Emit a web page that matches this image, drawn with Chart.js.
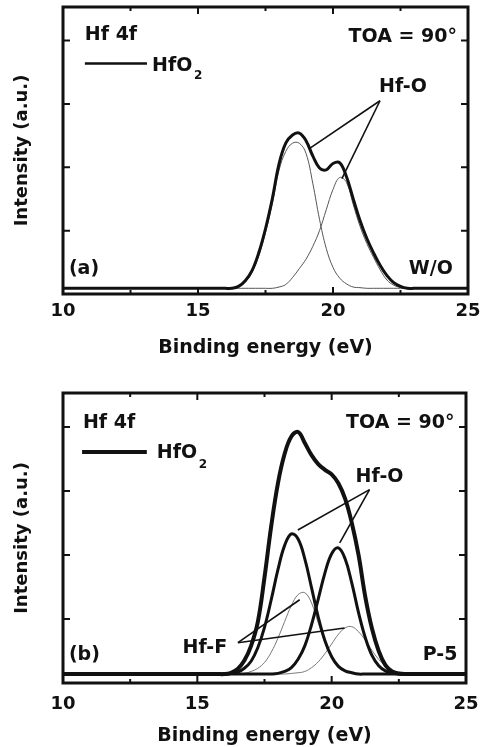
<!DOCTYPE html>
<html>
<head>
<meta charset="utf-8">
<script src="https://cdn.jsdelivr.net/npm/chart.js@4.4.1/dist/chart.umd.min.js"></script>
<style>
  html, body { margin: 0; padding: 0; background: #fff; }
  canvas { position: absolute; left: 0; }
  #chartA { top: 0; }
  #chartB { top: 370px; }
</style>
</head>
<body>
<canvas id="chartA" width="480" height="370"></canvas>
<canvas id="chartB" width="480" height="377"></canvas>
<script>
const FONT = '"DejaVu Sans", sans-serif';

// Binding energy (eV) shared by every curve
const energies = [10, 15.5, 15.75, 16, 16.25,
  16.5, 16.75, 17, 17.25, 17.5,
  17.75, 18, 18.25, 18.5, 18.75,
  19, 19.25, 19.5, 19.75, 20,
  20.25, 20.5, 20.75, 21, 21.25,
  21.5, 21.75, 22, 22.25, 22.5,
  22.75, 23, 23.25, 23.5, 25];

// Panel (a): W/O
const totalA = [0.09, 0.09, 0.09, 0.09, 0.09,
  0.12, 0.21, 0.37, 0.65, 1.03,
  1.50, 2.05, 2.38, 2.51, 2.54,
  2.42, 2.18, 1.99, 1.96, 2.06,
  2.07, 1.85, 1.50, 1.16, 0.88,
  0.65, 0.45, 0.29, 0.18, 0.12,
  0.09, 0.09, 0.09, 0.09, 0.09];
const hfoA1 = [0.09, 0.09, 0.09, 0.09, 0.09,
  0.11, 0.19, 0.34, 0.60, 0.97,
  1.42, 1.95, 2.25, 2.38, 2.38,
  2.22, 1.75, 1.18, 0.72, 0.42,
  0.25, 0.16, 0.11, 0.10, 0.09,
  0.09, 0.09, 0.09, 0.09, 0.09,
  0.09, 0.09, 0.09, 0.09, 0.09];
const hfoA2 = [0.09, 0.09, 0.09, 0.09, 0.09,
  0.09, 0.09, 0.09, 0.09, 0.09,
  0.09, 0.11, 0.15, 0.26, 0.40,
  0.55, 0.75, 1.00, 1.33, 1.65,
  1.84, 1.76, 1.41, 1.07, 0.80,
  0.58, 0.38, 0.22, 0.14, 0.10,
  0.09, 0.09, 0.09, 0.09, 0.09];

// Panel (b): P-5
const totalB = [0.14, 0.14, 0.14, 0.14, 0.16,
  0.22, 0.35, 0.58, 0.95, 1.65,
  2.45, 3.12, 3.58, 3.85, 3.92,
  3.75, 3.56, 3.42, 3.33, 3.26,
  3.12, 2.88, 2.50, 2.00, 1.35,
  0.85, 0.50, 0.28, 0.18, 0.15,
  0.14, 0.14, 0.14, 0.14, 0.14];
const hfoB1 = [0.14, 0.14, 0.14, 0.14, 0.15,
  0.17, 0.23, 0.34, 0.55, 0.87,
  1.30, 1.77, 2.15, 2.33, 2.25,
  1.94, 1.49, 1.03, 0.66, 0.41,
  0.26, 0.19, 0.16, 0.14, 0.14,
  0.14, 0.14, 0.14, 0.14, 0.14,
  0.14, 0.14, 0.14, 0.14, 0.14];
const hfoB2 = [0.14, 0.14, 0.14, 0.14, 0.14,
  0.14, 0.14, 0.14, 0.14, 0.14,
  0.14, 0.15, 0.18, 0.24, 0.37,
  0.58, 0.91, 1.31, 1.72, 2.02,
  2.11, 1.94, 1.56, 1.10, 0.71,
  0.43, 0.27, 0.19, 0.16, 0.14,
  0.14, 0.14, 0.14, 0.14, 0.14];
const hffB1 = [0.14, 0.14, 0.14, 0.14, 0.14,
  0.14, 0.15, 0.18, 0.23, 0.32,
  0.48, 0.70, 0.96, 1.21, 1.38,
  1.41, 1.25, 0.94, 0.63, 0.39,
  0.25, 0.18, 0.15, 0.14, 0.14,
  0.14, 0.14, 0.14, 0.14, 0.14,
  0.14, 0.14, 0.14, 0.14, 0.14];
const hffB2 = [0.14, 0.14, 0.14, 0.14, 0.14,
  0.14, 0.14, 0.14, 0.14, 0.14,
  0.14, 0.14, 0.14, 0.15, 0.16,
  0.18, 0.24, 0.33, 0.46, 0.61,
  0.76, 0.86, 0.88, 0.80, 0.67,
  0.51, 0.37, 0.27, 0.20, 0.17,
  0.15, 0.14, 0.14, 0.14, 0.14];

const xTicks = [10, 15, 20, 25];
const xMinorTicks = [12.5, 17.5, 22.5];
const yTicks = [1, 2, 3, 4];

function points(values) {
  return energies.map((e, i) => ({ x: e, y: values[i] }));
}

function curve(values, width, color) {
  return { data: points(values), borderColor: color, borderWidth: width, pointRadius: 0, fill: false, tension: 0.4 };
}

// Draws the frame, inward ticks, legend sample, pointer lines and the labels
const decor = {
  id: 'decor',
  afterDatasetsDraw(chart, args, opts) {
    const { ctx, chartArea: a, scales: { x, y } } = chart;
    ctx.save();
    ctx.strokeStyle = '#111';
    ctx.lineCap = 'butt';

    // ticks pointing into the plot
    ctx.lineWidth = 2;
    ctx.beginPath();
    yTicks.forEach(v => {
      const py = y.getPixelForValue(v);
      ctx.moveTo(a.left, py); ctx.lineTo(a.left + 7, py);
      ctx.moveTo(a.right, py); ctx.lineTo(a.right - 7, py);
    });
    xTicks.slice(1, -1).forEach(v => {
      const px = x.getPixelForValue(v);
      ctx.moveTo(px, a.bottom); ctx.lineTo(px, a.bottom - 7);
      ctx.moveTo(px, a.top); ctx.lineTo(px, a.top + 7);
    });
    xMinorTicks.forEach(v => {
      const px = x.getPixelForValue(v);
      ctx.moveTo(px, a.bottom); ctx.lineTo(px, a.bottom - 4);
      ctx.moveTo(px, a.top); ctx.lineTo(px, a.top + 4);
    });
    ctx.stroke();

    // frame
    ctx.lineWidth = 3;
    ctx.strokeRect(a.left, a.top, a.right - a.left, a.bottom - a.top);

    // legend sample
    const lg = opts.legend;
    ctx.lineWidth = lg.width;
    ctx.beginPath();
    ctx.moveTo(x.getPixelForValue(lg.x1), y.getPixelForValue(lg.y));
    ctx.lineTo(x.getPixelForValue(lg.x2), y.getPixelForValue(lg.y));
    ctx.stroke();

    // pointer lines
    ctx.lineWidth = 1.6;
    opts.pointers.forEach(p => {
      ctx.beginPath();
      ctx.moveTo(x.getPixelForValue(p.from[0]), y.getPixelForValue(p.from[1]));
      ctx.lineTo(x.getPixelForValue(p.to[0]), y.getPixelForValue(p.to[1]));
      ctx.stroke();
    });

    // labels
    ctx.fillStyle = '#111';
    ctx.textBaseline = 'middle';
    opts.texts.forEach(t => {
      ctx.font = 'bold ' + (t.size || 19) + 'px ' + FONT;
      ctx.textAlign = t.align || 'left';
      ctx.fillText(t.text, x.getPixelForValue(t.x), y.getPixelForValue(t.y));
    });
    ctx.restore();
  }
};

function makeChart(id, datasets, dims, decorOpts) {
  return new Chart(document.getElementById(id), {
    type: 'line',
    data: { datasets },
    options: {
      responsive: false,
      animation: false,
      devicePixelRatio: 1,
      layout: { padding: { top: dims.top, right: dims.right, left: 0, bottom: 0 } },
      plugins: { legend: { display: false }, tooltip: { enabled: false }, decor: decorOpts },
      scales: {
        x: {
          type: 'linear', min: 10, max: 25,
          grid: { display: false, drawTicks: false },
          border: { display: false },
          afterBuildTicks: s => { s.ticks = xTicks.map(v => ({ value: v })); },
          afterFit: s => { s.height = dims.xHeight; s.paddingLeft = 0; s.paddingRight = 0; },
          ticks: { font: { family: FONT, size: 18, weight: 'bold' }, color: '#111', padding: dims.tickPad, maxRotation: 0 },
          title: {
            display: true, text: 'Binding energy (eV)', color: '#111',
            font: { family: FONT, size: 19, weight: 'bold' },
            padding: { top: 0, bottom: dims.titlePad }
          }
        },
        y: {
          min: 0, max: 4.53,
          grid: { display: false, drawTicks: false },
          border: { display: false },
          ticks: { display: false },
          afterFit: s => { s.width = 63; },
          title: {
            display: true, text: 'Intensity (a.u.)', color: '#111',
            font: { family: FONT, size: 18, weight: 'bold' },
            padding: { top: 12, bottom: 0 }
          }
        }
      }
    },
    plugins: [decor]
  });
}

makeChart('chartA', [
  curve(totalA, 3, '#111'),
  curve(hfoA1, 1, '#555'),
  curve(hfoA2, 1, '#555')
], { top: 7, right: 12, xHeight: 76, tickPad: 7, titlePad: 11 }, {
  legend: { x1: 10.81, x2: 13.11, y: 3.64, width: 2.5 },
  pointers: [
    { from: [21.74, 3.05], to: [19.11, 2.29] },
    { from: [21.74, 3.05], to: [20.33, 1.82] }
  ],
  texts: [
    { text: 'Hf 4f', x: 10.81, y: 4.08 },
    { text: 'HfO', x: 13.30, y: 3.60 },
    { text: '2', x: 14.85, y: 3.44, size: 12 },
    { text: 'TOA = 90°', x: 24.59, y: 4.06, align: 'right' },
    { text: 'Hf-O', x: 22.59, y: 3.26, align: 'center' },
    { text: '(a)', x: 10.22, y: 0.39 },
    { text: 'W/O', x: 24.44, y: 0.40, align: 'right' }
  ]
});

makeChart('chartB', [
  curve(totalB, 4, '#111'),
  curve(hfoB1, 3, '#111'),
  curve(hfoB2, 3, '#111'),
  curve(hffB1, 1, '#777'),
  curve(hffB2, 1, '#777')
], { top: 23, right: 14, xHeight: 64, tickPad: 11, titlePad: 0 }, {
  legend: { x1: 10.71, x2: 13.12, y: 3.61, width: 4 },
  pointers: [
    { from: [21.41, 3.02], to: [18.74, 2.39] },
    { from: [21.41, 3.02], to: [20.30, 2.19] },
    { from: [16.51, 0.63], to: [18.81, 1.30] },
    { from: [16.51, 0.63], to: [20.48, 0.86] }
  ],
  texts: [
    { text: 'Hf 4f', x: 10.74, y: 4.06 },
    { text: 'HfO', x: 13.49, y: 3.59 },
    { text: '2', x: 15.05, y: 3.41, size: 12 },
    { text: 'TOA = 90°', x: 24.57, y: 4.06, align: 'right' },
    { text: 'Hf-O', x: 21.78, y: 3.22, align: 'center' },
    { text: 'Hf-F', x: 15.28, y: 0.55, align: 'center' },
    { text: '(b)', x: 10.22, y: 0.44 },
    { text: 'P-5', x: 24.68, y: 0.44, align: 'right' }
  ]
});
</script>
</body>
</html>
